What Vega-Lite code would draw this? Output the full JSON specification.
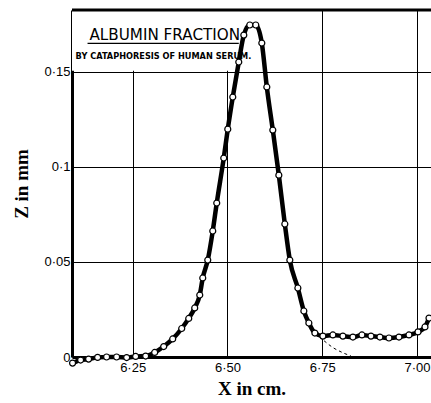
{
  "$schema": "https://vega.github.io/schema/vega-lite/v6.json",
  "width": 359,
  "height": 347,
  "autosize": "none",
  "padding": {"left": 72, "top": 10, "right": 0, "bottom": 46},
  "background": "white",
  "config": {
    "view": {"stroke": null},
    "axis": {
      "grid": true, "gridColor": "black", "gridWidth": 1, "gridOpacity": 1,
      "ticks": false, "domainColor": "black", "domainWidth": 3,
      "labelColor": "black", "labelFont": "Liberation Sans", "labelFontSize": 13,
      "titleColor": "black", "titleFont": "Liberation Serif", "titleFontSize": 19, "titleFontWeight": "bold"
    }
  },
  "datasets": {
    "one": [{}],
    "curve": [
      {"x": 6.0915, "z": -0.0032}, {"x": 6.1127, "z": -0.0016}, {"x": 6.1338, "z": -0.0011},
      {"x": 6.1576, "z": -0.0002}, {"x": 6.1813, "z": 0.0}, {"x": 6.2077, "z": 0.0},
      {"x": 6.2342, "z": -0.0003}, {"x": 6.2579, "z": 0.0003}, {"x": 6.2843, "z": 0.0005},
      {"x": 6.3081, "z": 0.0024}, {"x": 6.3319, "z": 0.0055}, {"x": 6.3556, "z": 0.0095},
      {"x": 6.3794, "z": 0.0150}, {"x": 6.3979, "z": 0.0203}, {"x": 6.4137, "z": 0.0258},
      {"x": 6.4270, "z": 0.0326}, {"x": 6.4349, "z": 0.0416}, {"x": 6.4481, "z": 0.0510},
      {"x": 6.4613, "z": 0.0663}, {"x": 6.4718, "z": 0.0810}, {"x": 6.4903, "z": 0.1047},
      {"x": 6.5009, "z": 0.1199}, {"x": 6.5141, "z": 0.1368}, {"x": 6.5299, "z": 0.1552},
      {"x": 6.5432, "z": 0.1694}, {"x": 6.5590, "z": 0.1747}, {"x": 6.5748, "z": 0.1747},
      {"x": 6.5907, "z": 0.1652}, {"x": 6.6039, "z": 0.1421}, {"x": 6.6197, "z": 0.1194},
      {"x": 6.6356, "z": 0.0957}, {"x": 6.6514, "z": 0.0700}, {"x": 6.6646, "z": 0.0510},
      {"x": 6.6858, "z": 0.0363}, {"x": 6.7016, "z": 0.0242}, {"x": 6.7148, "z": 0.0179},
      {"x": 6.7307, "z": 0.0126}, {"x": 6.7518, "z": 0.0110}, {"x": 6.7782, "z": 0.0116},
      {"x": 6.8046, "z": 0.0110}, {"x": 6.8310, "z": 0.0105}, {"x": 6.8548, "z": 0.0116},
      {"x": 6.8786, "z": 0.0110}, {"x": 6.9023, "z": 0.0105}, {"x": 6.9261, "z": 0.0100},
      {"x": 6.9525, "z": 0.0105}, {"x": 6.9789, "z": 0.0116}, {"x": 7.0027, "z": 0.0132},
      {"x": 7.0211, "z": 0.0158}, {"x": 7.0317, "z": 0.0205}
    ],
    "tail": [
      {"x": 6.7307, "z": 0.0126}, {"x": 6.7545, "z": 0.0086}, {"x": 6.7780, "z": 0.0050},
      {"x": 6.8050, "z": 0.0022}, {"x": 6.8260, "z": 0.0005}
    ]
  },
  "layer": [
    {
      "data": {"name": "one"},
      "mark": {"type": "rect", "color": "white"},
      "encoding": {
        "x": {"datum": 6.09, "type": "quantitative"},
        "x2": {"datum": 6.7},
        "y": {"datum": 0.1506, "type": "quantitative"},
        "y2": {"datum": 0.1826}
      }
    },
    {
      "data": {"name": "one"},
      "mark": {"type": "text", "text": "ALBUMIN  FRACTION", "align": "left", "baseline": "alphabetic", "font": "DejaVu Sans", "fontSize": 15.2, "color": "black"},
      "encoding": {
        "x": {"datum": 6.136, "type": "quantitative"},
        "y": {"datum": 0.1668, "type": "quantitative"}
      }
    },
    {
      "data": {"name": "one"},
      "mark": {"type": "rule", "color": "black", "strokeWidth": 1.3},
      "encoding": {
        "x": {"datum": 6.131, "type": "quantitative"},
        "x2": {"datum": 6.530},
        "y": {"datum": 0.1650, "type": "quantitative"}
      }
    },
    {
      "data": {"name": "one"},
      "mark": {"type": "text", "text": "BY  CATAPHORESIS  OF  HUMAN  SERUM.", "align": "left", "baseline": "alphabetic", "font": "DejaVu Sans", "fontSize": 8.2, "fontWeight": "bold", "color": "black"},
      "encoding": {
        "x": {"datum": 6.0995, "type": "quantitative"},
        "y": {"datum": 0.1568, "type": "quantitative"}
      }
    },
    {
      "data": {"name": "one"},
      "mark": {"type": "rule", "color": "black", "strokeWidth": 3},
      "encoding": {
        "y": {"datum": 0.1826, "type": "quantitative"}
      }
    },
    {
      "data": {"name": "tail"},
      "mark": {"type": "line", "color": "black", "strokeWidth": 1, "strokeDash": [3, 3], "interpolate": "monotone"},
      "encoding": {
        "x": {"field": "x", "type": "quantitative"},
        "y": {"field": "z", "type": "quantitative"}
      }
    },
    {
      "data": {"name": "curve"},
      "mark": {"type": "line", "color": "black", "strokeWidth": 4.5, "interpolate": "monotone", "clip": false},
      "encoding": {
        "x": {
          "field": "x", "type": "quantitative",
          "scale": {"domain": [6.09, 7.037], "nice": false, "zero": false},
          "axis": {"values": [6.25, 6.5, 6.75, 7.0], "labelExpr": "replace(format(datum.value, '.2f'), '.', '·')", "labelPadding": 4, "title": "X in cm.", "titlePadding": 5}
        },
        "y": {
          "field": "z", "type": "quantitative",
          "scale": {"domain": [0, 0.1826], "nice": false, "zero": false},
          "axis": {"values": [0, 0.05, 0.1, 0.15], "labelExpr": "datum.value == 0 ? '0' : replace(format(datum.value, '~g'), '.', '·')", "labelPadding": 2, "title": "Z in mm", "titlePadding": 12}
        }
      }
    },
    {
      "data": {"name": "curve"},
      "mark": {"type": "point", "filled": true, "fill": "white", "stroke": "black", "strokeWidth": 1.2, "size": 36, "opacity": 1, "clip": false},
      "encoding": {
        "x": {"field": "x", "type": "quantitative"},
        "y": {"field": "z", "type": "quantitative"}
      }
    }
  ]
}
